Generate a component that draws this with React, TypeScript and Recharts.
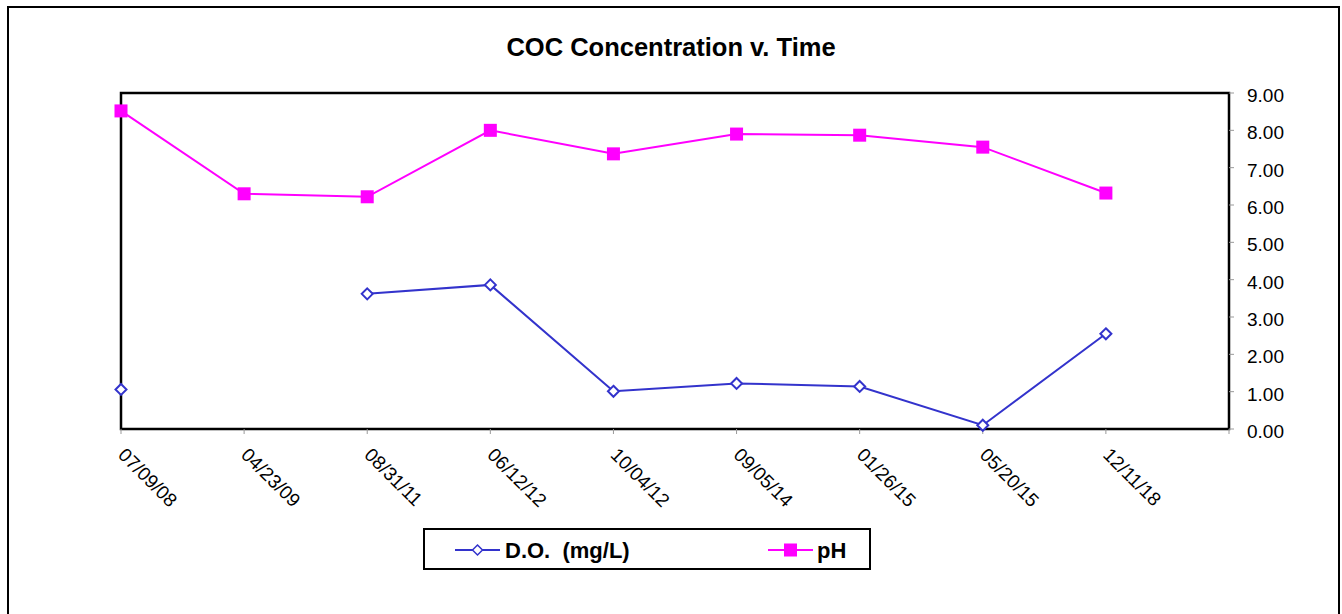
import { LineChart, Line, XAxis, YAxis, ReferenceArea } from "recharts";

// sampling dates (last slot is an empty category, like the Excel axis)
const DATES = ["07/09/08", "04/23/09", "08/31/11", "06/12/12", "10/04/12", "09/05/14", "01/26/15", "05/20/15", "12/11/18", ""];
const DO_VALUES = [1.06, null, 3.62, 3.86, 1.01, 1.22, 1.14, 0.1, 2.55, null];
const PH_VALUES = [8.52, 6.3, 6.22, 8.0, 7.37, 7.9, 7.87, 7.55, 6.32, null];
const Y_TICKS = [0, 1, 2, 3, 4, 5, 6, 7, 8, 9];

const DO_NAME = "D.O.  (mg/L)";
const PH_NAME = "pH";
const TITLE = "COC Concentration v. Time";

const DO_COLOR = "#3333CC";
const PH_COLOR = "#FF00FF";
const FONT = '"Liberation Sans", Arial, sans-serif';

const data = DATES.map((date, i) => ({ date, dox: DO_VALUES[i], ph: PH_VALUES[i] }));

function DiamondDot(props: any) {
  const { cx, cy, value, index } = props;
  if (value == null || cx == null || cy == null) return <g key={`d-${index}`} />;
  const r = 5.5;
  return (
    <path
      key={`d-${index}`}
      d={`M${cx},${cy - r} L${cx + r},${cy} L${cx},${cy + r} L${cx - r},${cy} Z`}
      fill="#fff"
      stroke={DO_COLOR}
      strokeWidth={2}
    />
  );
}

function SquareDot(props: any) {
  const { cx, cy, value, index } = props;
  if (value == null || cx == null || cy == null) return <g key={`s-${index}`} />;
  return <rect key={`s-${index}`} x={cx - 6.5} y={cy - 6.5} width={13} height={13} fill={PH_COLOR} />;
}

function XTick({ x, y, payload }: any) {
  if (!payload.value) return <g />;
  return (
    <text transform={`translate(${x - 4},${y + 20}) rotate(45)`} fontSize={19} fontFamily={FONT} fill="#000">
      {payload.value}
    </text>
  );
}

function YTick({ x, y, payload }: any) {
  return (
    <text x={x} y={y} dy={9} textAnchor="start" fontSize={19} fontFamily={FONT} fill="#000">
      {Number(payload.value).toFixed(2)}
    </text>
  );
}

export default function App() {
  return (
    <div
      style={{
        position: "absolute",
        left: 0,
        top: 0,
        width: 1342,
        height: 614,
        overflow: "hidden",
        background: "#fff",
        fontFamily: FONT,
      }}
    >
      <div style={{ position: "absolute", left: 7, top: 6, width: 1329, height: 700, border: "2px solid #000" }} />
      <div
        style={{
          position: "absolute",
          left: 7,
          width: 1328,
          top: 33,
          textAlign: "center",
          fontSize: 25.5,
          fontWeight: "bold",
          lineHeight: "normal",
        }}
      >
        {TITLE}
      </div>
      <div style={{ position: "absolute", left: 0, top: 0 }}>
        <LineChart width={1342} height={614} data={data} margin={{ top: 93, right: 43, bottom: 95, left: 121 }}>
          <ReferenceArea yAxisId="right" y1={0} y2={9} fill="none" stroke="#000" strokeWidth={2.5} ifOverflow="visible" />
          <XAxis
            dataKey="date"
            scale="point"
            height={90}
            interval={0}
            axisLine={false}
            tickSize={5}
            tickLine={{ stroke: "#999" }}
            tick={<XTick />}
          />
          <YAxis
            yAxisId="right"
            orientation="right"
            width={70}
            domain={[0, 9]}
            ticks={Y_TICKS}
            axisLine={false}
            tickSize={5}
            tickMargin={13}
            tickLine={{ stroke: "#999" }}
            tick={<YTick />}
          />
          <Line
            yAxisId="right"
            type="linear"
            dataKey="dox"
            name={DO_NAME}
            stroke={DO_COLOR}
            strokeWidth={2}
            dot={DiamondDot}
            activeDot={false}
            isAnimationActive={false}
          />
          <Line
            yAxisId="right"
            type="linear"
            dataKey="ph"
            name={PH_NAME}
            stroke={PH_COLOR}
            strokeWidth={2}
            dot={SquareDot}
            activeDot={false}
            isAnimationActive={false}
          />
        </LineChart>
      </div>
      <div
        style={{
          position: "absolute",
          left: 423,
          top: 528,
          width: 444,
          height: 38,
          border: "2px solid #000",
          background: "#fff",
        }}
      >
        <svg width={444} height={38} style={{ position: "absolute", left: 0, top: 0 }}>
          <line x1={30} y1={20} x2={75} y2={20} stroke={DO_COLOR} strokeWidth={2} />
          <path d="M52.5,15 L57.5,20 L52.5,25 L47.5,20 Z" fill="#fff" stroke={DO_COLOR} strokeWidth={1.5} />
          <line x1={343} y1={20} x2={388} y2={20} stroke={PH_COLOR} strokeWidth={2} />
          <rect x={359} y={13.5} width={13} height={13} fill={PH_COLOR} />
          <text x={80} y={28} fontSize={22} fontWeight="bold" fontFamily={FONT} style={{ whiteSpace: "pre" }}>
            {DO_NAME}
          </text>
          <text x={392} y={28} fontSize={22} fontWeight="bold" fontFamily={FONT}>
            {PH_NAME}
          </text>
        </svg>
      </div>
    </div>
  );
}
